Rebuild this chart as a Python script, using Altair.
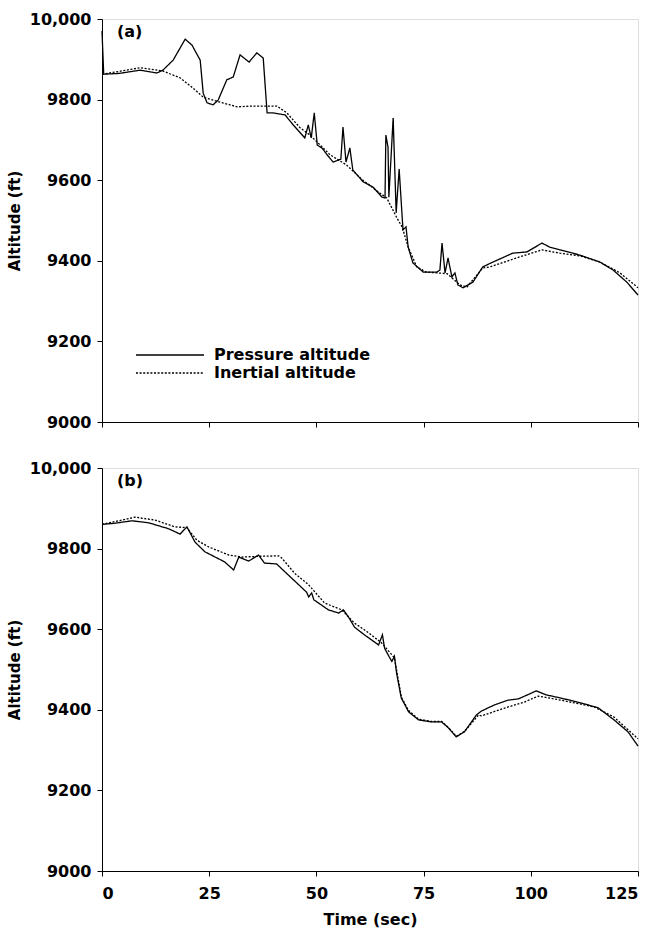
import altair as alt
import pandas as pd

# ---------------- data ----------------
series_names = ["Pressure altitude", "Inertial altitude"]

# Panel (a)
a_press_t = [0, 0.4, 4, 8.9, 12.8, 14.2, 16.6, 19.4, 21.0, 22.9, 23.6, 24.5, 25.9, 27.1, 29.1, 30.6,
             32.2, 34.3, 36.1, 37.6, 38.5, 39.9, 42.7, 44.6, 47.3, 48.1, 48.8, 49.5, 50.2, 51.3,
             52.5, 53.9, 55.7, 56.2, 56.9, 57.8, 58.5, 60.9, 63.2, 65.3, 66.0, 66.2, 66.7, 66.9,
             67.9, 68.6, 69.3, 70.0, 70.2, 70.9, 71.4, 72.5, 74.9, 78.1, 78.8, 79.3, 80.0, 80.7,
             81.6, 82.3, 83.0, 84.2, 86.5, 88.8, 91.2, 95.8, 99.1, 102.6, 104.4, 106.8, 111.5,
             116.1, 119.2, 122.4, 125]
a_press_alt = [9970, 9863, 9865, 9873, 9866, 9873, 9898, 9950, 9935, 9898, 9816, 9792, 9787, 9799, 9849, 9856,
               9911, 9893, 9916, 9903, 9767, 9767, 9762, 9737, 9705, 9737, 9705, 9767, 9687, 9680,
               9663, 9645, 9652, 9732, 9645, 9680, 9625, 9596, 9583, 9558, 9556, 9712, 9682, 9558,
               9754, 9519, 9628, 9509, 9477, 9484, 9434, 9395, 9372, 9372, 9377, 9444, 9370, 9407,
               9360, 9370, 9340, 9333, 9347, 9385, 9397, 9419, 9422, 9444, 9434, 9427, 9414,
               9397, 9377, 9347, 9315]

a_iner_t = [0, 4, 8.9, 14.2, 18.2, 21.2, 23.6, 27.5, 31.5, 35, 38.5, 40.8, 43.1, 46.2, 48.5, 53.2,
            57, 60.5, 64.4, 66.4, 68.8, 70.0, 71.4, 73.4, 75.6, 78.1, 80.5, 83.5, 85.1, 88.8, 90.5,
            97.5, 102.6, 106.8, 111.5, 116.1, 120.8, 125]
a_iner_alt = [9863, 9870, 9879, 9871, 9854, 9829, 9806, 9794, 9782, 9784, 9784, 9784, 9767, 9730, 9712, 9663,
              9638, 9603, 9571, 9556, 9506, 9484, 9434, 9385, 9372, 9370, 9368, 9340, 9335, 9382, 9385,
              9410, 9427, 9419, 9412, 9397, 9370, 9333]

# Panel (b)
b_press_t = [0, 3, 7, 10.9, 15.6, 18.2, 19.8, 21.7, 24, 28.6, 30.7, 31.9, 34.2, 36.5, 37.9, 40.7,
             44.2, 47.7, 48.2, 48.9, 49.4, 52.8, 55.2, 56.3, 57.5, 58.9, 61.2, 64.5, 65.4, 65.9,
             67.0, 67.6, 68.2, 68.7, 69.8, 71.5, 73.8, 76.8, 79.2, 80.8, 82.6, 84.5, 87.3, 88.5,
             91.5, 94.7, 97.1, 101.3, 103.6, 107.1, 111.7, 115.7, 119.4, 122.7, 125]
b_press_alt = [9860, 9863, 9869, 9864, 9849, 9836, 9854, 9816, 9792, 9767, 9747, 9779, 9769, 9784, 9764, 9762,
               9727, 9692, 9680, 9690, 9673, 9648, 9640, 9648, 9630, 9605, 9586, 9561, 9586, 9553,
               9531, 9520, 9533, 9491, 9429, 9395, 9375, 9370, 9370, 9355, 9333, 9345, 9387, 9397,
               9412, 9424, 9427, 9447, 9437, 9429, 9417, 9405, 9375, 9345, 9310]

b_iner_t = [0, 3.9, 7.7, 12.3, 17, 19.8, 22.1, 24.9, 29.6, 32.6, 37, 41.2, 41.9, 44.9, 48.2, 51.9,
            55.9, 58.9, 62.2, 65.2, 68.2, 69.8, 71.5, 73.8, 76.8, 79.2, 80.8, 82.6, 84.5, 87.8, 88.5,
            94.7, 98.5, 101.7, 105.5, 111.7, 114.8, 119.4, 125]
b_iner_alt = [9860, 9869, 9878, 9871, 9854, 9852, 9821, 9804, 9784, 9779, 9781, 9782, 9777, 9739, 9710, 9665,
              9648, 9615, 9591, 9566, 9529, 9432, 9398, 9377, 9371, 9371, 9356, 9334, 9346, 9387, 9385,
              9407, 9419, 9434, 9427, 9414, 9407, 9382, 9328]

y_ticks = [9000, 9200, 9400, 9600, 9800, 10000]
x_ticks = [0, 25, 50, 75, 100, 125]
panel_labels = ["(a)", "(b)"]

FONT = "DejaVu Sans"


def make_df(pt, pa, it, ia):
    d1 = pd.DataFrame({"t": pt, "alt": pa, "series": series_names[0], "order": range(len(pt))})
    d2 = pd.DataFrame({"t": it, "alt": ia, "series": series_names[1], "order": range(len(it))})
    return pd.concat([d2, d1], ignore_index=True)


def panel(df, label, show_x_labels, show_legend):
    x_axis = alt.Axis(values=x_ticks, labels=show_x_labels, grid=False, tickSize=5,
                      title="Time (sec)" if show_x_labels else None,
                      labelFontSize=16, labelFont=FONT, labelFontWeight="bold", labelPadding=9,
                      titleFontSize=16, titleFont=FONT, titleFontWeight="bold", titlePadding=10,
                      labelColor="black", titleColor="black", domainColor="black", tickColor="black")
    y_axis = alt.Axis(values=y_ticks, grid=False, tickSize=5, format=",d",
                      labelExpr="datum.value >= 10000 ? datum.label : replace(datum.label, ',', '')",
                      title="Altitude (ft)", labelFontSize=16, labelFont=FONT, labelFontWeight="bold",
                      labelPadding=6, titleFontSize=15, titleFont=FONT, titleFontWeight="bold",
                      titlePadding=7, labelColor="black", titleColor="black",
                      domainColor="black", tickColor="black")
    if show_legend:
        legend = alt.Legend(title=None, orient="none", legendX=33, legendY=328,
                            symbolType="M-5,0H5", symbolSize=185, symbolStrokeWidth=1.4,
                            symbolStrokeColor="black", symbolOffset=27, labelOffset=36,
                            labelFont=FONT, labelFontSize=16, labelFontWeight="bold",
                            labelColor="black", rowPadding=2, padding=0)
    else:
        legend = None
    lines = alt.Chart(df).mark_line(color="black", strokeWidth=1.3).encode(
        x=alt.X("t:Q", scale=alt.Scale(domain=[0, 125], nice=False), axis=x_axis),
        y=alt.Y("alt:Q", scale=alt.Scale(domain=[9000, 10000], nice=False), axis=y_axis),
        strokeDash=alt.StrokeDash("series:N",
                                  scale=alt.Scale(domain=series_names, range=[[1, 0], [2, 1.6]]),
                                  legend=legend),
        order="order:Q",
    )
    text = alt.Chart(pd.DataFrame({"label": [label]})).mark_text(
        align="left", baseline="middle", fontSize=16, font=FONT, fontWeight="bold", color="black"
    ).encode(text="label:N", x=alt.value(15), y=alt.value(13))
    return alt.layer(lines, text).properties(width=536, height=403)


top = panel(make_df(a_press_t, a_press_alt, a_iner_t, a_iner_alt), panel_labels[0], False, True)
bottom = panel(make_df(b_press_t, b_press_alt, b_iner_t, b_iner_alt), panel_labels[1], True, False)

chart = alt.vconcat(top, bottom, spacing=28).resolve_legend(strokeDash="independent").properties(
    padding={"left": 6, "top": 10, "right": 5, "bottom": 5}
).configure_view(stroke=None).configure(background="white")

chart.save("out.html", embed_options={"renderer": "svg", "actions": False})
